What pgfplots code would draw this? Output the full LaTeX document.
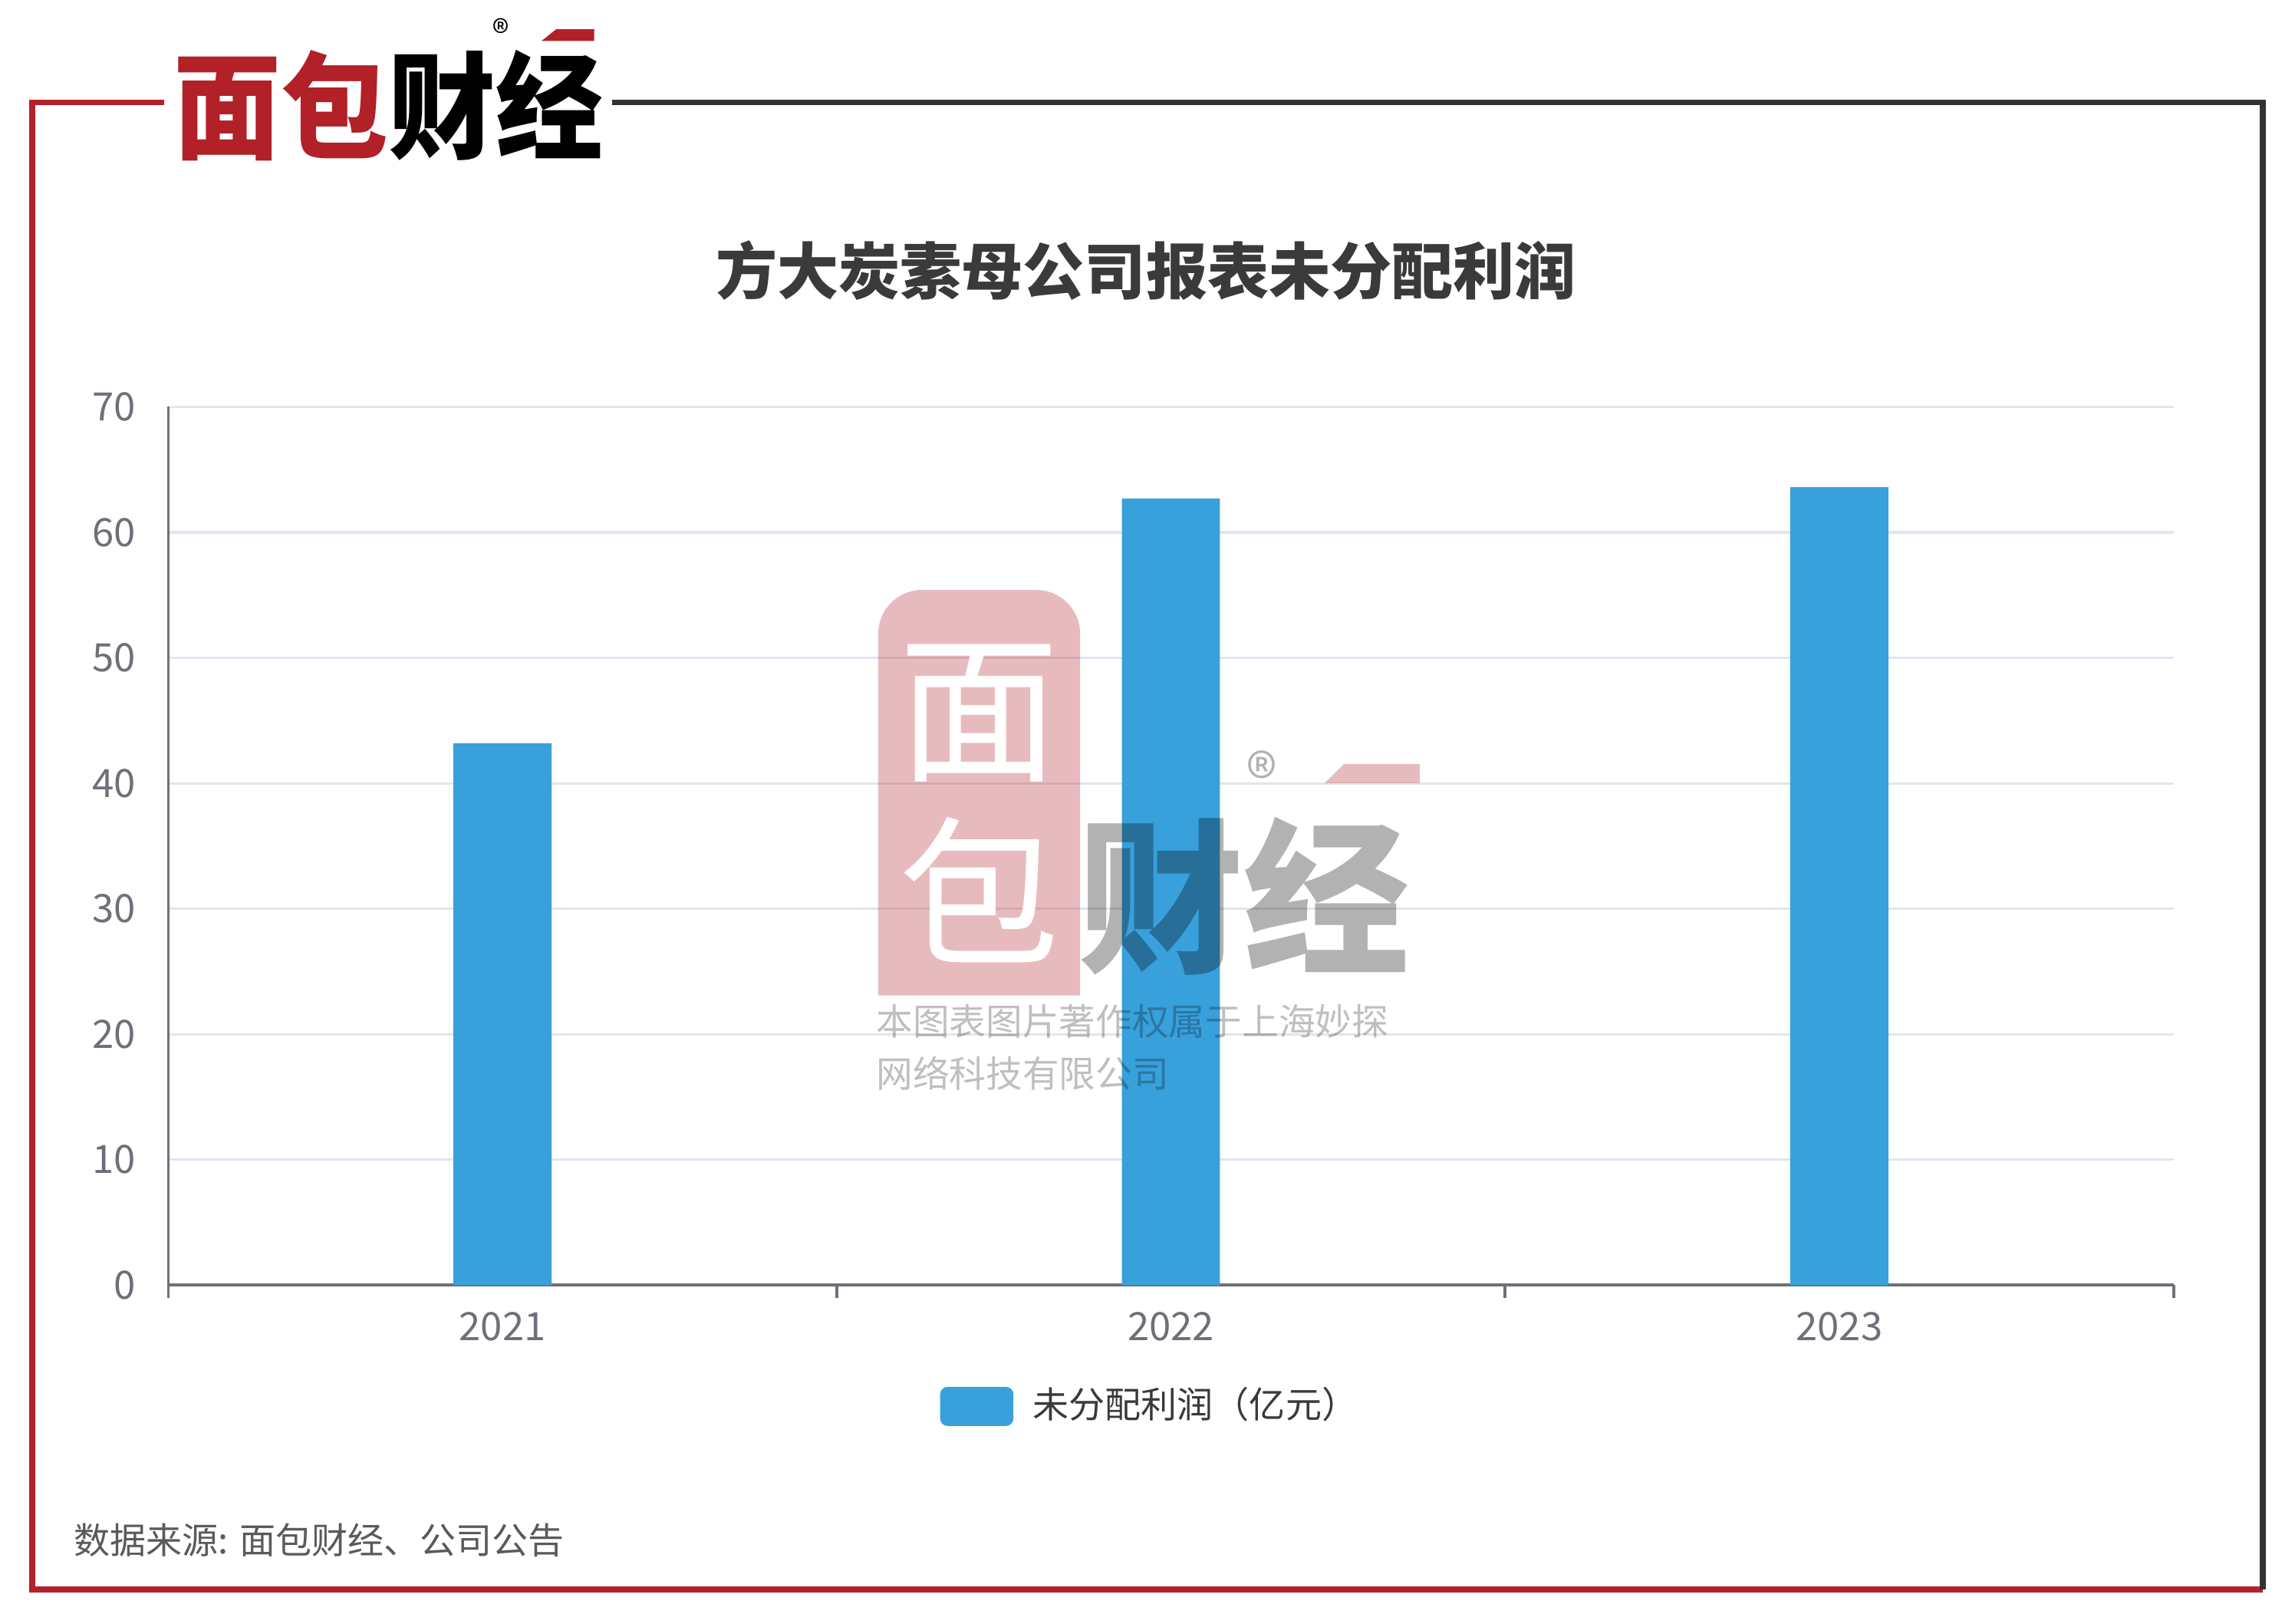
\documentclass[border=0pt]{standalone}
\usepackage{fontspec}
\setmainfont{Noto Sans CJK SC}
\usepackage{pgfplots}
\pgfplotsset{compat=1.18}

\definecolor{barblue}{RGB}{56,160,218}
\definecolor{gridcolor}{HTML}{E0E6F1}
\definecolor{axisgray}{HTML}{6E7079}
\definecolor{logored}{HTML}{B22028}
\definecolor{framered}{HTML}{B5202A}
\definecolor{framedark}{HTML}{333333}
\definecolor{titlegray}{HTML}{3A3A3A}
\definecolor{srcgray}{HTML}{5A5A5A}

\begin{document}
\begin{tikzpicture}
% page drawn in reference pixels (1 px = 0.3pt), y downwards
\begin{scope}[x=0.3pt,y=-0.3pt]
  \path[use as bounding box, fill=white] (0,0) rectangle (1568,1109);
  % frame
  \draw[framered, line width=1.2pt] (112,70) -- (22,70) -- (22,1086) -- (1546,1086);
  \draw[framedark, line width=1.2pt] (418,70) -- (1546,70) -- (1546,1086);
  % logo
  \node[anchor=west, inner sep=0pt, font=\bfseries\fontsize{22}{24}\selectfont, yscale=1.08]
    at (118,72) {\textcolor{logored}{面包}财经};
  \node[font=\fontsize{7}{8}\selectfont] at (342,22) {®};
  \fill[logored] (370,28) -- (380,20) -- (406,20) -- (406,28) -- cycle;
  % title
  \node[font=\bfseries\fontsize{12.6}{14}\selectfont, text=titlegray] at (783,185)
    {方大炭素母公司报表未分配利润};
  % source
  \node[anchor=west, inner sep=0pt, font=\fontsize{7.4}{9}\selectfont, text=srcgray] at (50,1052)
    {数据来源: 面包财经、公司公告};
\end{scope}

\begin{axis}[
  at={(34.5pt,-263.4pt)}, anchor=south west,
  scale only axis, width=411pt, height=180pt,
  xmin=-0.5, xmax=2.5, ymin=0, ymax=70,
  axis x line*=bottom, axis y line*=left,
  axis line style={draw=axisgray, line width=0.6pt, -},
  xtick={0,1,2}, xticklabels={2021,2022,2023},
  minor xtick={-0.5,0.5,1.5,2.5},
  ytick={0,10,...,70},
  major tick length=0pt, minor tick length=2.6pt, tick align=outside,
  tick style={draw=axisgray, line width=0.6pt},
  ymajorgrids, grid style={draw=gridcolor, line width=0.5pt},
  ticklabel style={font=\fontsize{8}{9}\selectfont, text=axisgray},
  yticklabel style={xshift=-3.2pt},
  xticklabel style={yshift=-2pt},
  /pgf/number format/assume math mode=true,
  ybar, bar width=20.1pt,
  legend style={at={(0.4915,-0.138)}, anchor=center, draw=none, fill=none,
    font=\fontsize{7.4}{8}\selectfont, text=titlegray,
    /tikz/every even column/.append style={column sep=1pt}},
  legend image code/.code={\fill[#1, draw=none, rounded corners=1.5pt] (0pt,-4pt) rectangle (15pt,4pt);},
]
\addplot[fill=barblue, draw=none] coordinates {(0,43.2) (1,62.7) (2,63.6)};
\addlegendentry{\hspace{2pt}未分配利润（亿元）}
\end{axis}

% watermark over the plot
\begin{scope}[x=0.3pt,y=-0.3pt]
  \fill[logored, opacity=0.3] (600,680) [rounded corners=9pt] -- (600,403) -- (738,403) [sharp corners] -- (738,680) -- cycle;
  \node[text=white, font=\fontsize{33}{34}\selectfont] at (669,487) {面};
  \node[text=white, font=\fontsize{33}{34}\selectfont] at (669,608) {包};
  \node[text=black, opacity=0.3, anchor=west, inner sep=0pt, font=\bfseries\fontsize{34}{36}\selectfont] at (736,612) {财经};
  \node[text=black, opacity=0.3, font=\fontsize{13}{14}\selectfont] at (862,530) {®};
  \fill[logored, opacity=0.3] (905,535) -- (918,522) -- (970,522) -- (970,535) -- cycle;
  \node[text=black, opacity=0.25, anchor=west, inner sep=0pt, font=\fontsize{7.5}{9}\selectfont] at (598,698) {本图表图片著作权属于上海妙探};
  \node[text=black, opacity=0.25, anchor=west, inner sep=0pt, font=\fontsize{7.5}{9}\selectfont] at (598,733) {网络科技有限公司};
\end{scope}
\end{tikzpicture}
\end{document}
